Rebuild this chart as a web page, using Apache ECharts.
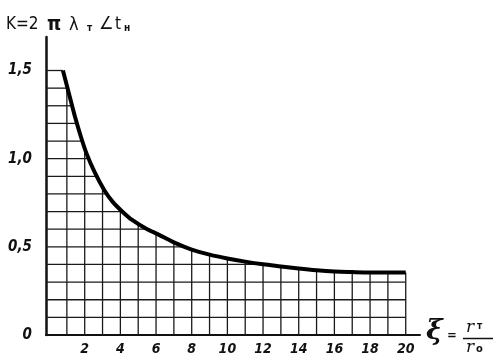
<!DOCTYPE html>
<html>
<head>
<meta charset="utf-8">
<script src="https://cdn.jsdelivr.net/npm/echarts@6/dist/echarts.min.js"></script>
<style>
html,body{margin:0;padding:0;background:#fff;}
#c{width:493px;height:359px;}
</style>
</head>
<body>
<div id="c"></div>
<script>
// Curve K(ξ)
const curveX = [0.78, 1.14, 1.46, 1.8, 2.1, 2.55, 3.1, 3.57, 4.13, 4.68, 5.43, 6.17, 7, 8, 9, 10, 11, 12, 13, 14, 15, 16, 17, 18, 19, 20];
const curveK = [1.5, 1.36, 1.236, 1.12, 1.03, 0.925, 0.821, 0.755, 0.698, 0.651, 0.604, 0.568, 0.525, 0.484, 0.456, 0.434, 0.416, 0.401, 0.389, 0.377, 0.367, 0.36, 0.357, 0.355, 0.355, 0.355];
// Grid lines under the curve
const xGridLines = [1,2,3,4,5,6,7,8,9,10,11,12,13,14,15,16,17,18,19,20];
const yGridLines = [0.1,0.2,0.3,0.4,0.5,0.6,0.7,0.8,0.9,1.0,1.1,1.2,1.3,1.4,1.5];
// Tick labels
const xTickValues = [2,4,6,8,10,12,14,16,18,20];
const yTickValues = [0, 0.5, 1.0, 1.5];

const X_MIN = -0.17, X_MAX = 20.8;

function curveAt(x){
  if (x <= curveX[0]) return curveK[0];
  for (let i = 0; i < curveX.length - 1; i++){
    if (x >= curveX[i] && x <= curveX[i+1]){
      const t = (x - curveX[i]) / (curveX[i+1] - curveX[i]);
      return curveK[i] + t * (curveK[i+1] - curveK[i]);
    }
  }
  return curveK[curveK.length - 1];
}
function xAt(y){
  if (y >= curveK[0]) return curveX[0];
  for (let i = 0; i < curveK.length - 1; i++){
    if (curveK[i] >= y && curveK[i+1] < y){
      const t = (curveK[i] - y) / (curveK[i] - curveK[i+1]);
      return curveX[i] + t * (curveX[i+1] - curveX[i]);
    }
  }
  return curveX[curveX.length - 1];
}

const vData = xGridLines.map(x => [x, curveAt(x)]);
const hData = yGridLines.map(y => [xAt(y), y]);
const curveData = curveX.map((x, i) => [x, curveK[i]]);

const FAM = '"DejaVu Sans Condensed", "DejaVu Sans", sans-serif';
const LBL = {fontFamily:FAM, fontStyle:'oblique', fontWeight:'bold', color:'#111'};
const GRIDSTYLE = {stroke:'#1a1a1a', lineWidth:1.3};

const chart = echarts.init(document.getElementById('c'), null, {renderer:'canvas'});
chart.setOption({
  animation:false,
  backgroundColor:'#fff',
  grid:{left:46, right:73, top:37, bottom:24, containLabel:false},
  xAxis:{
    type:'value', min:X_MIN, max:X_MAX,
    axisLine:{show:true, onZero:false, lineStyle:{color:'#111', width:2}},
    axisTick:{show:false},
    splitLine:{show:false},
    axisLabel:{show:true, customValues:xTickValues, margin:7, fontSize:14, ...LBL,
      formatter:v => String(v)}
  },
  yAxis:{
    type:'value', min:0, max:1.69,
    axisLine:{show:true, onZero:false, lineStyle:{color:'#111', width:2.5}},
    axisTick:{show:false},
    splitLine:{show:false},
    axisLabel:{show:true, customValues:yTickValues, margin:14, fontSize:15, ...LBL,
      formatter:v => v === 0 ? '0' : v.toFixed(1).replace('.', ',')}
  },
  graphic:[
    {type:'text', left:6, top:16, style:{text:'K=2', font:'17px ' + FAM, fill:'#111'}},
    {type:'text', left:47, top:15, style:{text:'π', font:'bold 20px ' + FAM, fill:'#111'}},
    {type:'text', left:69, top:16, style:{text:'λ', font:'18px ' + FAM, fill:'#111'}},
    {type:'text', left:87, top:23, style:{text:'т', font:'bold 10px ' + FAM, fill:'#111'}},
    {type:'text', left:99, top:15, style:{text:'∠', font:'18px ' + FAM, fill:'#111'}},
    {type:'text', left:115, top:16, style:{text:'t', font:'17px ' + FAM, fill:'#111'}},
    {type:'text', left:124, top:23, style:{text:'н', font:'bold 10px ' + FAM, fill:'#111'}},
    {type:'text', left:426, top:318, style:{text:'ξ', font:'italic bold 28px "DejaVu Serif"', fill:'#111'}},
    {type:'text', left:447, top:329, style:{text:'=', font:'bold 13px ' + FAM, fill:'#111'}},
    {type:'text', left:466, top:319, style:{text:'r', font:'italic 17px "DejaVu Serif"', fill:'#111'}},
    {type:'text', left:477, top:321, style:{text:'т', font:'bold 10px ' + FAM, fill:'#111'}},
    {type:'line', shape:{x1:463, y1:338.5, x2:493, y2:338.5}, style:{stroke:'#111', lineWidth:1.5}},
    {type:'text', left:466, top:339, style:{text:'r', font:'italic 17px "DejaVu Serif"', fill:'#111'}},
    {type:'text', left:476, top:344, style:{text:'o', font:'bold 11px ' + FAM, fill:'#111'}}
  ],
  series:[
    {
      type:'custom', data:vData, silent:true, z:2,
      renderItem:function(params, api){
        const x = api.value(0), top = api.value(1);
        const p0 = api.coord([x, 0]), p1 = api.coord([x, top]);
        return {type:'line', shape:{x1:p0[0], y1:p0[1], x2:p1[0], y2:p1[1]}, style:GRIDSTYLE};
      }
    },
    {
      type:'custom', data:hData, silent:true, z:2,
      renderItem:function(params, api){
        const xr = api.value(0), y = api.value(1);
        const p0 = api.coord([X_MIN, y]), p1 = api.coord([xr, y]);
        return {type:'line', shape:{x1:p0[0], y1:p0[1], x2:p1[0], y2:p1[1]}, style:GRIDSTYLE};
      }
    },
    {
      type:'line', data:curveData, z:3, showSymbol:false, symbol:'none',
      smooth:0.3,
      lineStyle:{color:'#000', width:4, cap:'butt', join:'round'}
    }
  ]
});
</script>
</body>
</html>
